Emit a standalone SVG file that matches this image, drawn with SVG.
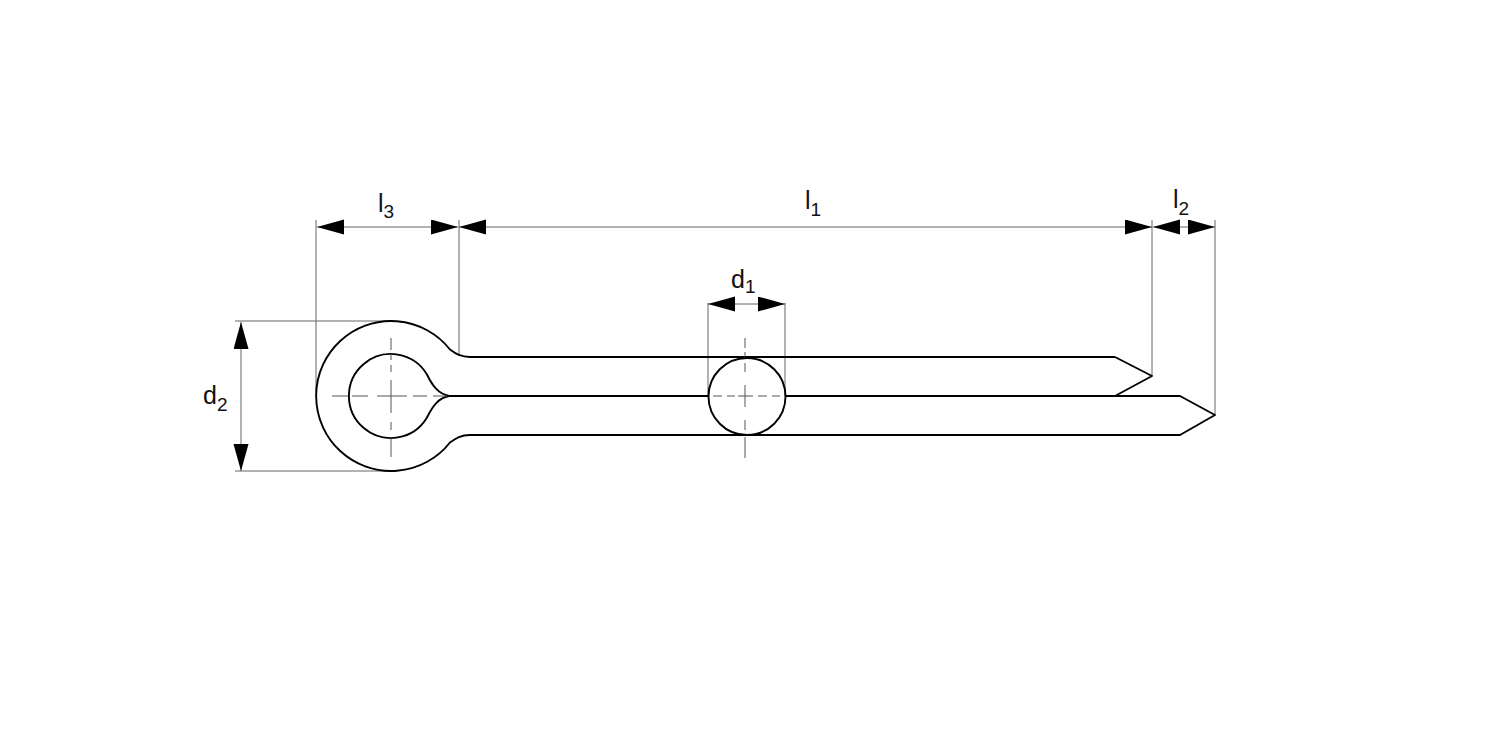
<svg xmlns="http://www.w3.org/2000/svg" width="1500" height="750" viewBox="0 0 1500 750">
<style>
.o{fill:none;stroke:#000;stroke-width:1.9;stroke-linejoin:round}
.d{fill:none;stroke:#666;stroke-width:1}
.c{fill:none;stroke:#555;stroke-width:1}
.t{font-family:"Liberation Sans",Arial,sans-serif;font-size:25px;fill:#111}
.s{font-size:19px}
</style>
<defs>
<marker id="a" markerUnits="userSpaceOnUse" markerWidth="28" markerHeight="16" refX="27" refY="7.5" orient="auto-start-reverse"><path d="M0 0L27 7.5L0 15Z" fill="#000"/></marker>
</defs>
<rect width="1500" height="750" fill="#fff"/>
<g id="connectors">
<path class="d" d="M316 396V220M459 356V220M1152 376V220M1215 415V220M708 396V303M785 396V303M391 321H235M391 471H235"/>
<line class="d" x1="317" y1="227" x2="458" y2="227" marker-start="url(#a)" marker-end="url(#a)"/>
<line class="d" x1="459" y1="227" x2="1152" y2="227" marker-start="url(#a)" marker-end="url(#a)"/>
<line class="d" x1="1153" y1="227" x2="1215" y2="227" marker-start="url(#a)" marker-end="url(#a)"/>
<line class="d" x1="708" y1="304" x2="785" y2="304" marker-start="url(#a)" marker-end="url(#a)"/>
<line class="d" x1="241" y1="322" x2="241" y2="471" marker-start="url(#a)" marker-end="url(#a)"/>
</g>
<g id="pin">
<path class="o" d="M1115 357H470C461 357 456 354 450 349.500A75 75 0 1 0 450 442.500C456 438 461 435 470 435H1180L1215 415L1180 396H1115L1152 376L1115 357"/>
<path class="o" d="M449 396C439 394 433 387 427 374.500A42 42 0 1 0 427 417.500C433 405 439 398 449 396H708M785 396H1115"/>
</g>
<g id="section"><circle class="o" cx="747" cy="396.500" r="38.500" fill="#fff"/></g>
<g id="centerlines">
<path class="c" d="M391 338V350M391 354V360M391 365V372M391 380V413M391 422V430M391 438V457"/>
<path class="c" d="M332 396H348M352 396H368M377 396H407M413 396H427M433 396H447"/>
<path class="c" d="M745 338V348M745 352V357M745 363V372M745 385V407M745 420V430M745 437V458"/>
<path class="c" d="M713 396H722M727 396H735M738 396H753M758 396H767M772 396H780"/>
</g>
<g id="labels">
<text class="t" x="378" y="212">l<tspan class="s" dy="6">3</tspan></text>
<text class="t" x="805" y="209">l<tspan class="s" dy="7">1</tspan></text>
<text class="t" x="1173" y="208">l<tspan class="s" dy="7">2</tspan></text>
<text class="t" x="731" y="288">d<tspan class="s" dy="5">1</tspan></text>
<text class="t" x="203" y="404">d<tspan class="s" dy="7">2</tspan></text>
</g>
</svg>
